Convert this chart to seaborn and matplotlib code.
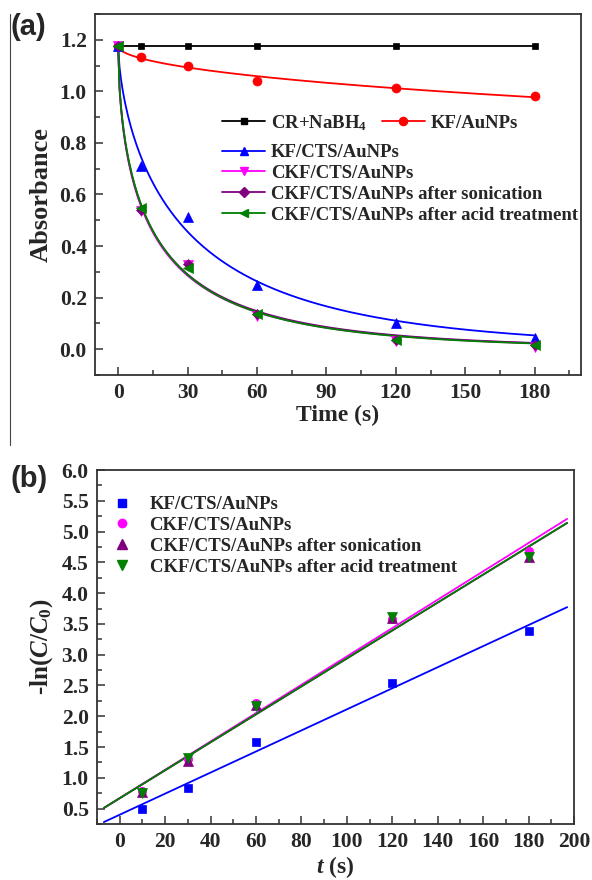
import numpy as np
import pandas as pd
import seaborn as sns
import matplotlib
matplotlib.use("Agg")
import matplotlib.pyplot as plt
from matplotlib.lines import Line2D
from matplotlib.ticker import MultipleLocator

# ---------------- data: panel (a) ----------------
time_s = [0, 10, 30, 60, 120, 180]
abs_cr = [1.175, 1.175, 1.175, 1.175, 1.175, 1.175]
abs_kf_au = [1.175, 1.135, 1.100, 1.042, 1.012, 0.981]
abs_kf_cts = [1.175, 0.710, 0.512, 0.248, 0.100, 0.045]
abs_ckf = [1.175, 0.535, 0.325, 0.130, 0.030, 0.010]
abs_ckf_son = [1.175, 0.540, 0.330, 0.135, 0.035, 0.015]
abs_ckf_acid = [1.175, 0.548, 0.315, 0.135, 0.035, 0.015]

# ---------------- data: panel (b) ----------------
t_b = [10, 30, 60, 120, 180]
ln_kf_cts = [0.50, 0.84, 1.58, 2.54, 3.39]
ln_ckf = [0.79, 1.30, 2.21, 3.58, 4.68]
ln_ckf_son = [0.77, 1.28, 2.19, 3.60, 4.58]
ln_ckf_acid = [0.75, 1.32, 2.17, 3.61, 4.58]

labels_a = [r"CR+NaBH$_4$", "KF/AuNPs", "KF/CTS/AuNPs", "CKF/CTS/AuNPs",
            "CKF/CTS/AuNPs after sonication", "CKF/CTS/AuNPs after acid treatment"]
labels_b = ["KF/CTS/AuNPs", "CKF/CTS/AuNPs",
            "CKF/CTS/AuNPs after sonication", "CKF/CTS/AuNPs after acid treatment"]

sns.set_theme(style="ticks")
plt.rcParams["font.family"] = ["Liberation Serif", "DejaVu Serif"]
plt.rcParams["font.weight"] = "bold"
plt.rcParams["axes.labelweight"] = "bold"
plt.rcParams["mathtext.fontset"] = "custom"
plt.rcParams["mathtext.rm"] = "Liberation Serif:bold"
plt.rcParams["mathtext.it"] = "Liberation Serif:italic:bold"
plt.rcParams["mathtext.bf"] = "Liberation Serif:bold"

W, H = 592, 880
fig = plt.figure(figsize=(W / 100, H / 100), dpi=100)
ax1 = fig.add_axes([95 / W, 1 - 375 / H, (581 - 95) / W, (375 - 14) / H])
ax2 = fig.add_axes([97 / W, 1 - 824 / H, (574 - 97) / W, (824 - 470) / H])


def stretched_fit(t, y):
    t = np.asarray(t, float)
    y = np.asarray(y, float)
    a0 = y[0]
    ps = np.linspace(0.3, 1.6, 131)[:, None, None]
    ks = np.logspace(-5, 0, 500)[None, :, None]
    pred = a0 * np.exp(-(ks * t[None, None, :]) ** ps)
    err = ((pred - y[None, None, :]) ** 2).sum(axis=2)
    i, j = np.unravel_index(np.argmin(err), err.shape)
    return a0, ks[0, j, 0], ps[i, 0, 0]


series_a = [
    (abs_cr, "black", "s", 5),
    (abs_kf_au, "#ff0000", "o", 6.5),
    (abs_kf_cts, "#0000ff", "^", 7),
    (abs_ckf, "#ff00ff", "v", 7),
    (abs_ckf_son, "#800080", "D", 5.5),
    (abs_ckf_acid, "#008000", "<", 7),
]

tt = np.linspace(0, 180, 300)
for vals, col, mk, ms in series_a:
    if vals is abs_cr:
        sns.lineplot(x=time_s, y=vals, ax=ax1, color=col, lw=1.3, zorder=2)
    else:
        a0, k, p = stretched_fit(time_s, vals)
        sns.lineplot(x=tt, y=a0 * np.exp(-(k * tt) ** p), ax=ax1, color=col, lw=1.3, zorder=2)
for vals, col, mk, ms in series_a:
    ax1.plot(time_s, vals, linestyle="none", marker=mk, color=col, markersize=ms,
             markeredgewidth=0.5, zorder=3)

ax1.set_xlim(-10, 200)
ax1.set_ylim(-0.1, 1.3)
ax1.xaxis.set_minor_locator(MultipleLocator(15))
ax1.yaxis.set_major_locator(MultipleLocator(0.2))
ax1.yaxis.set_minor_locator(MultipleLocator(0.1))
ax1.set_xticks([0, 30, 60, 90, 120, 150, 180])
ax1.set_xlabel("Time (s)", fontsize=17, fontweight="bold", labelpad=1)
ax1.set_ylabel("Absorbance", fontsize=19, fontweight="bold", labelpad=5)

handles_a = [Line2D([], [], color=c, marker=m, markersize=ms * 0.9, lw=1.3)
             for (_, c, m, ms) in series_a]
leg1 = ax1.legend(handles_a[:2], labels_a[:2], ncol=2, loc="upper left",
                  bbox_to_anchor=(222 / W, 1 - 113 / H), bbox_transform=fig.transFigure,
                  frameon=False, fontsize=13.5, handlelength=2.3, handletextpad=0.3,
                  columnspacing=0.8, borderpad=0, borderaxespad=0)
ax1.add_artist(leg1)
ax1.legend(handles_a[2:], labels_a[2:], loc="upper left",
           bbox_to_anchor=(222 / W, 1 - 144 / H), bbox_transform=fig.transFigure,
           frameon=False, fontsize=13.5, handlelength=2.3, handletextpad=0.3,
           labelspacing=0.2, borderpad=0, borderaxespad=0)

# ---------------- panel (b) ----------------
series_b = [
    (ln_kf_cts, "#0000ff", "s", 5.5),
    (ln_ckf, "#ff00ff", "o", 6),
    (ln_ckf_son, "#800080", "^", 6.5),
    (ln_ckf_acid, "#008000", "v", 6.5),
]
ax2.set_xlim(-7, 197)
for vals, col, mk, ms in series_b:
    sns.regplot(x=np.array(t_b, float), y=np.array(vals, float), ax=ax2, scatter=False,
                ci=None, truncate=False, color=col, line_kws={"lw": 1.3, "zorder": 2})
for vals, col, mk, ms in series_b:
    ax2.plot(t_b, vals, linestyle="none", marker=mk, color=col, markersize=ms,
             markeredgewidth=0.5, zorder=3)

ax2.set_xlim(-10, 200)
ax2.set_ylim(0.25, 6.0)
ax2.set_xticks(range(0, 201, 20))
ax2.xaxis.set_minor_locator(MultipleLocator(10))
ax2.set_yticks(np.arange(0.5, 6.01, 0.5))
ax2.yaxis.set_minor_locator(MultipleLocator(0.25))
ax2.set_xlabel(r"$\mathit{t}$ (s)", fontsize=17, fontweight="bold", labelpad=1)
ax2.set_ylabel(r"-ln($\mathit{C}$/$\mathit{C}_\mathrm{0}$)", fontsize=18, fontweight="bold", labelpad=5)

handles_b = [Line2D([], [], color=c, marker=m, markersize=ms, lw=0)
             for (_, c, m, ms) in series_b]
ax2.legend(handles_b, labels_b, loc="upper left",
           bbox_to_anchor=(113 / W, 1 - 496 / H), bbox_transform=fig.transFigure,
           frameon=False, fontsize=13.5, handlelength=1.0, handletextpad=0.95,
           labelspacing=0.2, borderpad=0, borderaxespad=0)

for ax in (ax1, ax2):
    for s in ax.spines.values():
        s.set_visible(True)
        s.set_color("#333333")
        s.set_linewidth(1.3)
    ax.tick_params(which="both", direction="in", top=False, right=False,
                   color="#333333", width=1.1)
    ax.tick_params(which="major", length=6, labelsize=15.5, pad=6)
    ax.tick_params(which="minor", length=3.5)
    for lab in ax.get_xticklabels() + ax.get_yticklabels():
        lab.set_fontweight("bold")
    ax.set_facecolor("white")

fig.text(10 / W, 1 - 27 / H, "(a)", fontsize=21, fontweight="bold",
         family="Liberation Sans", va="center", ha="left")
fig.text(10 / W, 1 - 479 / H, "(b)", fontsize=21, fontweight="bold",
         family="Liberation Sans", va="center", ha="left")
fig.add_artist(Line2D([10 / W, 10 / W], [1 - 14 / H, 1 - 445 / H],
                      transform=fig.transFigure, color="#444444", lw=0.8))

fig.savefig("out.png", dpi=100, facecolor="white")
